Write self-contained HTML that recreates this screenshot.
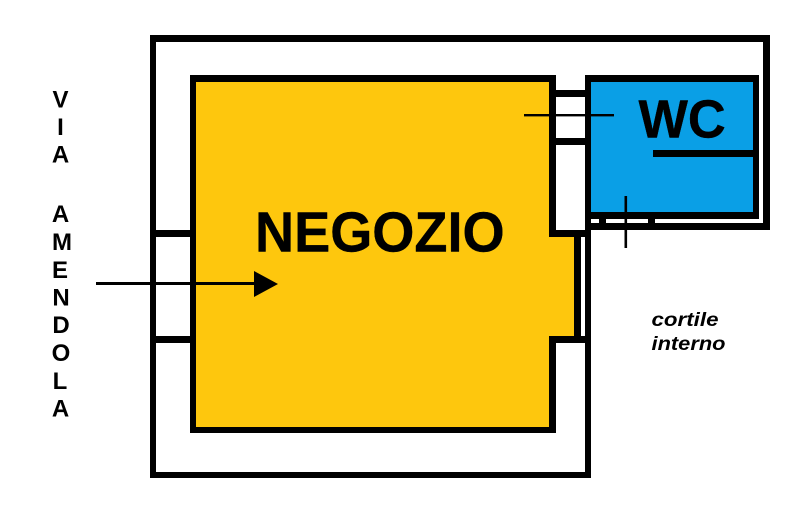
<!DOCTYPE html>
<html><head><meta charset="utf-8"><style>
html,body{margin:0;padding:0;background:#fff;width:789px;height:516px;overflow:hidden}
svg{display:block}
text{font-family:"Liberation Sans",sans-serif;fill:#000;stroke-linejoin:round}
</style></head><body>
<svg width="789" height="516" viewBox="0 0 789 516" xmlns="http://www.w3.org/2000/svg">
<rect width="789" height="516" fill="#fff"/>
<!-- yellow -->
<polygon points="196,82 549,82 549,237 574,237 574,336 549,336 549,427 196,427" fill="#fec70d"/>
<!-- blue -->
<rect x="591" y="82" width="162" height="130" fill="#0a9fe6"/>
<g fill="#000">
<!-- outer wall -->
<rect x="150" y="35" width="620" height="7"/>
<rect x="150" y="35" width="6" height="443"/>
<rect x="150" y="472" width="441" height="6"/>
<rect x="763" y="35" width="7" height="195"/>
<rect x="585" y="223" width="185" height="7"/>
<rect x="585" y="75" width="6" height="403"/>
<!-- shop wall -->
<rect x="190" y="75" width="366" height="7"/>
<rect x="190" y="75" width="6" height="358"/>
<rect x="190" y="427" width="366" height="6"/>
<rect x="549" y="75" width="7" height="162"/>
<rect x="549" y="336" width="7" height="97"/>
<rect x="549" y="230" width="42" height="7"/>
<rect x="549" y="336" width="42" height="7"/>
<rect x="574" y="230" width="7" height="113"/>
<!-- wc wall -->
<rect x="585" y="75" width="174" height="7"/>
<rect x="753" y="75" width="6" height="144"/>
<rect x="585" y="212" width="174" height="7"/>
<rect x="599" y="212" width="7" height="14"/>
<rect x="648" y="212" width="7" height="14"/>
<rect x="653" y="150" width="100" height="7"/>
<!-- ties -->
<rect x="556" y="90" width="30" height="7"/>
<rect x="556" y="138" width="30" height="7"/>
<rect x="156" y="230" width="34" height="7"/>
<rect x="156" y="336" width="34" height="7"/>
<!-- thin lines -->
<rect x="524" y="114" width="90" height="2.4"/>
<rect x="624.5" y="196" width="2.6" height="52"/>
<rect x="96" y="282" width="160" height="3"/>
<polygon points="254,271 278,284 254,297"/>
</g>
<text transform="translate(255 251.5) scale(0.95 1)" x="0" y="0" font-size="57" font-weight="700" stroke="#000" stroke-width="0.4">NEGOZIO</text>
<text transform="translate(638.5 137.5) scale(0.97 1)" x="0" y="0" font-size="54" font-weight="700" stroke="#000" stroke-width="0.4">WC</text>
<g font-size="24" font-weight="700" text-anchor="middle">
<text x="60.5" y="107.5">V</text>
<text x="60.5" y="135">I</text>
<text x="60.5" y="162.5">A</text>
<text x="60.5" y="222">A</text>
<text x="62" y="250">M</text>
<text x="60" y="278">E</text>
<text x="61" y="305.5">N</text>
<text x="61" y="333">D</text>
<text x="61" y="361">O</text>
<text x="60" y="389">L</text>
<text x="60.5" y="416.5">A</text>
</g>
<g font-size="19" font-weight="700" font-style="italic" fill="#111">
<text x="651.5" y="326" textLength="67" lengthAdjust="spacingAndGlyphs">cortile</text>
<text x="651.5" y="350" textLength="74" lengthAdjust="spacingAndGlyphs">interno</text>
</g>
</svg>
</body></html>
